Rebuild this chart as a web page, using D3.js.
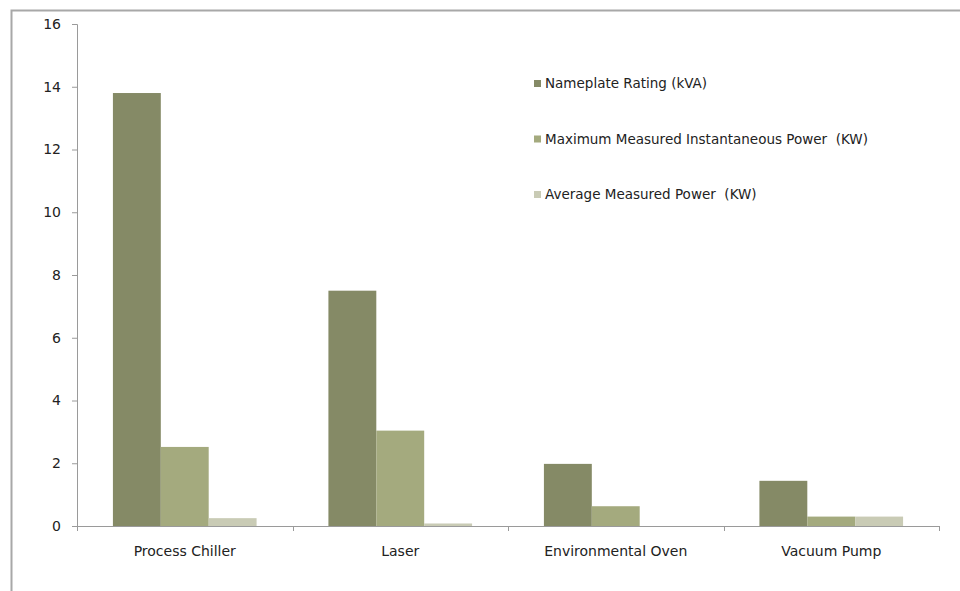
<!DOCTYPE html>
<html><head><meta charset="utf-8">
<script src="https://cdn.jsdelivr.net/npm/d3@7/dist/d3.min.js"></script>
<style>body{margin:0;background:#fff}svg{display:block}text{font-family:"DejaVu Sans",sans-serif;fill:#222;white-space:pre}</style>
</head><body><svg id="c" width="960" height="591"></svg>
<script>
const categories = ["Process Chiller","Laser","Environmental Oven","Vacuum Pump"];
const seriesNames = ["Nameplate Rating (kVA)","Maximum Measured Instantaneous Power  (KW)","Average Measured Power  (KW)"];
const nameplate = [13.8, 7.5, 1.98, 1.44];
const maxPower = [2.52, 3.04, 0.63, 0.3];
const avgPower = [0.25, 0.08, 0, 0.3];
const yTicks = [0,2,4,6,8,10,12,14,16];
const colors = ["#858a66","#a4aa7e","#c9cbb5"];
const series = [nameplate, maxPower, avgPower];

const svg = d3.select("#c");
svg.append("path").attr("d","M11.5,591 V10.5 H960").attr("fill","none").attr("stroke","#a8a8a8").attr("stroke-width",2);

const x0 = d3.scaleBand().domain(categories).range([77,939]).paddingInner(0).paddingOuter(0);
const inner = 1.5/4.5;
const x1 = d3.scaleBand().domain([0,1,2]).range([x0.bandwidth()*inner/2, x0.bandwidth()*(1-inner/2)]).padding(0);
const y = d3.scaleLinear().domain([0,16]).range([526,24]);

series.forEach((vals,si)=>{
  svg.append("g").selectAll("rect").data(vals).join("rect")
    .attr("x",(d,i)=>x0(categories[i])+x1(si))
    .attr("width",x1.bandwidth())
    .attr("y",d=>y(d))
    .attr("height",d=>y(0)-y(d))
    .attr("fill",colors[si]);
});

const ya = svg.append("g").attr("transform","translate(77,0)")
  .call(d3.axisLeft(y).tickValues(yTicks).tickSize(5).tickPadding(11).tickFormat(d3.format("d")));
ya.select(".domain").attr("stroke","#9a9a9a").attr("d","M-5,24.5H0.5V526");
ya.selectAll(".tick line").attr("stroke","#9a9a9a");
ya.selectAll(".tick text").attr("font-size",14).attr("fill","#1a1a1a").style("font-family","DejaVu Sans, sans-serif");

const xa = svg.append("g").attr("transform","translate(0,526)")
  .call(d3.axisBottom(x0).tickSize(0).tickPadding(20));
xa.select(".domain").attr("stroke","#9a9a9a").attr("d","M77,0.5H939");
xa.selectAll(".tick text").attr("font-size",14).attr("fill","#222").style("font-family","DejaVu Sans, sans-serif");
const bounds = categories.map(c=>x0(c)).concat([x0(categories[categories.length-1])+x0.bandwidth()]);
xa.append("g").selectAll("line").data(bounds).join("line")
  .attr("x1",d=>Math.round(d)+0.5).attr("x2",d=>Math.round(d)+0.5).attr("y1",0).attr("y2",5).attr("stroke","#9a9a9a");

const lg = svg.append("g");
seriesNames.forEach((n,i)=>{
  const yy = 83 + i*55.5;
  lg.append("rect").attr("x",534).attr("y",yy-3).attr("width",7).attr("height",7).attr("fill",colors[i]);
  lg.append("text").attr("x",545).attr("y",yy+5).attr("font-size",13.5).text(n);
});
</script></body></html>
